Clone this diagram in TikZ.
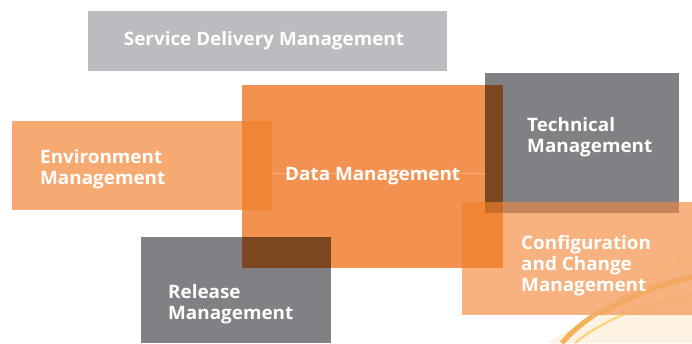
\documentclass[tikz,border=0pt]{standalone}
\usepackage{fontspec}
\setmainfont{Open Sans}[FakeStretch=1.02]
\definecolor{sdmgray}{RGB}{187,188,191}
\definecolor{dataor}{RGB}{243,146,80}
\definecolor{lightor}{RGB}{246,170,114}
\definecolor{midor}{RGB}{240,133,54}
\definecolor{boxgray}{RGB}{128,129,132}
\definecolor{brown}{RGB}{123,70,32}
\definecolor{cfgtech}{RGB}{196,133,92}
\definecolor{cfgbrown}{RGB}{200,108,39}
\definecolor{swirl}{RGB}{244,160,50}
\definecolor{cream}{RGB}{253,238,215}
\begin{document}
\begin{tikzpicture}[x=1pt,y=-1pt,
  lbl/.style={text=white,font=\bfseries\fontsize{18.5}{21}\selectfont,inner sep=0pt,align=left,anchor=base west},
  blk/.style={inner sep=0pt,outer sep=0pt}]
\useasboundingbox (0,0) rectangle (692,343);
% swirl decoration
\fill[cream,opacity=0.7] (548,343) .. controls (580,320) and (640,300) .. (692,292) -- (692,343) -- cycle;
\draw[swirl,line width=5pt,opacity=0.8] (562,343) .. controls (590,310) and (640,288) .. (692,276);
\draw[swirl!70!yellow,line width=2pt,opacity=0.6] (575,343) .. controls (605,318) and (650,302) .. (692,296);
% boxes
\fill[sdmgray] (88,11) rectangle (447,71) node[blk] (sdm) {};
\fill[dataor] (242,85) rectangle (503,268) node[blk] (data) {};
\draw[white,opacity=0.25,line width=0.6pt] (272,173) -- (485,173);
\fill[lightor] (12,121) rectangle (272,210) node[blk] (env) {};
\fill[midor] (242,121) rectangle (272,210);
\fill[boxgray] (485,73) rectangle (679,213) node[blk] (tech) {};
\fill[brown] (485,85) rectangle (503,213);
\fill[boxgray] (141,237) rectangle (331,343) node[blk] (rel) {};
\fill[brown] (242,237) rectangle (331,268);
\fill[lightor,opacity=0.9] (462,202) rectangle (692,315) node[blk] (cfg) {};
\fill[midor] (462,202) rectangle (485,268);
\fill[midor] (485,213) rectangle (503,268);
\fill[cfgbrown] (485,202) rectangle (503,213);
\fill[cfgtech] (503,202) rectangle (679,213);
% swirl inside config box
\draw[swirl,line width=4pt,opacity=0.35] (600,315) .. controls (625,300) and (660,285) .. (692,278);
\draw[swirl,line width=1pt,opacity=0.3] (620,298) .. controls (645,282) and (670,265) .. (692,258);
% labels
\node[lbl,anchor=base] (sdmT) at (264,45) {Service Delivery Management};
\node[lbl] (envT) at (40,184) {Environment\\Management};
\node[lbl] (dataT) at (285,180) {Data Management};
\node[lbl] (techT) at (527,152) {Technical\\Management};
\node[lbl] (cfgT) at (521,291) {Configuration\\and Change\\Management};
\node[lbl] (relT) at (168,319) {Release\\Management};
\end{tikzpicture}
\end{document}
